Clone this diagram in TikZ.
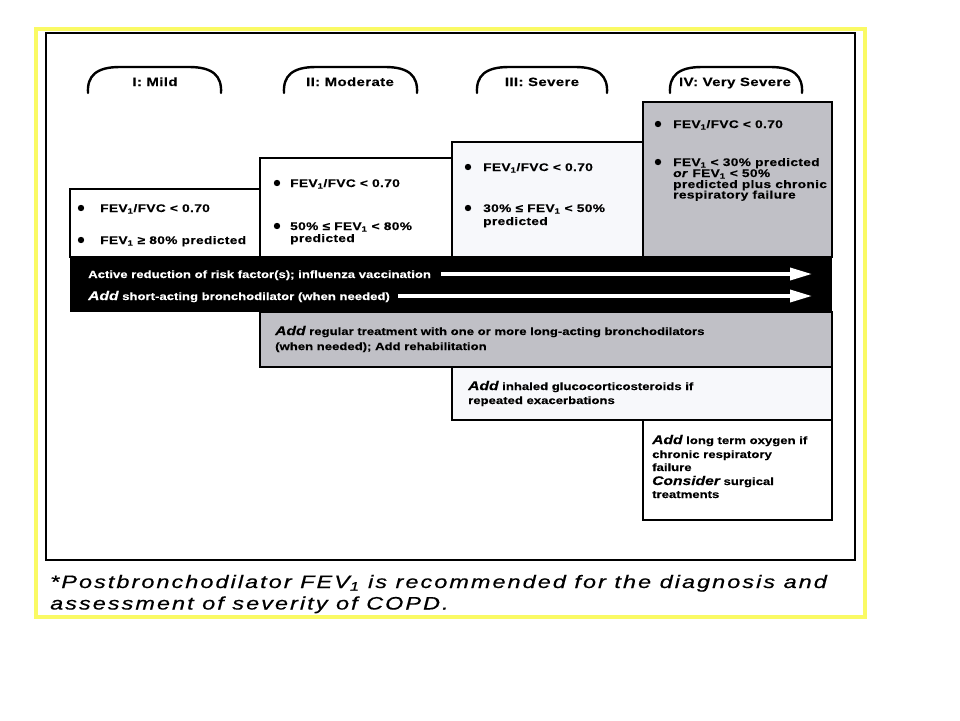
\documentclass[tikz,border=0pt]{standalone}
\usepackage{fontspec}
\setmainfont{Liberation Sans}
\newfontfamily\boxfont[FakeStretch=1.25,LetterSpace=3,FakeBold=0.3]{Liberation Sans}
\newfontfamily\bandfont[FakeStretch=1.25,LetterSpace=0,FakeBold=0.3]{Liberation Sans}
\newfontfamily\footfont[FakeStretch=1.3,LetterSpace=11.5,FakeBold=0.6]{Liberation Sans}
\usetikzlibrary{arrows.meta}
\definecolor{grayfill}{RGB}{192,192,198}
\definecolor{palefill}{RGB}{247,248,251}
\definecolor{ylw}{RGB}{250,250,100}
\newcommand\emword[1]{{\itshape\fontsize{12.5}{12}\selectfont #1}}
\newcommand\sub[1]{\textsubscript{#1}}
\begin{document}
\begin{tikzpicture}[x=1pt,y=-1pt,
  tb/.style={font=\boxfont\bfseries\fontsize{11}{12}\selectfont, anchor=base west, inner sep=0pt},
  tabtxt/.style={font=\boxfont\bfseries\fontsize{12}{12}\selectfont, anchor=base, inner sep=0pt},
  tt/.style={font=\bandfont\bfseries\fontsize{10.5}{12}\selectfont, anchor=base west, inner sep=0pt},
  bt/.style={tt, text=white},
  ft/.style={font=\footfont\itshape\fontsize{18}{21}\selectfont, anchor=base west, inner sep=0pt},
  tabline/.style={line width=2.4pt, line cap=round},
  boxl/.style={draw=black, line width=2pt},
  bul/.style={fill=black},
  arr/.style={draw=white, line width=3.5pt, -{Triangle[length=22pt,width=12pt]}},
  ]
\useasboundingbox (0,0) rectangle (960,720);
\fill[white] (0,0) rectangle (960,720);
% frames
\draw[ylw, line width=3.5pt] (36,29) rectangle (865,617);
\draw[black, line width=2pt] (46,33) rectangle (855,560);
% tabs
\foreach \a/\b in {88/221, 284/417, 477/607, 670/802}{
  \draw[tabline] (\a,93) .. controls (\a-1,76) and (\a+8,67) .. (\a+32,67) -- (\b-32,67) .. controls (\b-8,67) and (\b+1,76) .. (\b,93);
}
\node[tabtxt] (t1) at (155,86) {I: Mild};
\node[tabtxt] (t2) at (350,86) {II: Moderate};
\node[tabtxt] (t3) at (542,86) {III: Severe};
\node[tabtxt] (t4) at (735,86) {IV: Very Severe};
% severity boxes
\draw[boxl, fill=white] (70,189) rectangle (260,257);
\draw[boxl, fill=white] (260,158) rectangle (452,257);
\draw[boxl, fill=palefill] (452,142) rectangle (643,257);
\draw[boxl, fill=grayfill] (643,102) rectangle (832,257);
% box I
\fill[bul] (81,208) circle (3.2);
\node[tb] (b1a) at (100,212) {FEV\sub{1}/FVC < 0.70};
\fill[bul] (81,240) circle (3.2);
\node[tb] (b1b) at (100,244) {FEV\sub{1} ≥ 80\% predicted};
% box II
\fill[bul] (277,183) circle (3.2);
\node[tb] (b2a) at (290,187) {FEV\sub{1}/FVC < 0.70};
\fill[bul] (277,226) circle (3.2);
\node[tb] (b2b) at (290,230) {50\% ≤ FEV\sub{1} < 80\%};
\node[tb] (b2c) at (290,242) {predicted};
% box III
\fill[bul] (468,167) circle (3.2);
\node[tb] (b3a) at (483,171) {FEV\sub{1}/FVC < 0.70};
\fill[bul] (468,208) circle (3.2);
\node[tb] (b3b) at (483,212) {30\% ≤ FEV\sub{1} < 50\%};
\node[tb] (b3c) at (483,225) {predicted};
% box IV
\fill[bul] (658,124) circle (3.2);
\node[tb] (b4a) at (673,128) {FEV\sub{1}/FVC < 0.70};
\fill[bul] (658,162) circle (3.2);
\node[tb] (b4b) at (673,166) {FEV\sub{1} < 30\% predicted};
\node[tb] (b4c) at (673,177) {\textit{or} FEV\sub{1} < 50\%};
\node[tb] (b4d) at (673,188) {predicted plus chronic};
\node[tb] (b4e) at (673,198.5) {respiratory failure};
% black band
\fill[black] (70,257) rectangle (832,312);
\node[bt] (act) at (88,278) {Active reduction of risk factor(s); influenza vaccination};
\node[bt] (sab) at (88,300) {\emword{Add} short-acting bronchodilator (when needed)};
\coordinate (a1s) at (441,274);
\coordinate (a1e) at (812,274);
\coordinate (a2s) at (398,296);
\coordinate (a2e) at (812,296);
\draw[arr] (a1s) -- (a1e);
\draw[arr] (a2s) -- (a2e);
% treatment boxes
\draw[boxl, fill=grayfill] (260,312) rectangle (832,367);
\node[tt] (tr1) at (275,335) {\emword{Add} regular treatment with one or more long-acting bronchodilators};
\node[tt] (tr2) at (275,350) {(when needed); Add rehabilitation};
\draw[boxl, fill=palefill] (452,367) rectangle (832,420);
\node[tt] (ic1) at (468,390) {\emword{Add} inhaled glucocorticosteroids if};
\node[tt] (ic2) at (468,404) {repeated exacerbations};
\draw[boxl, fill=white] (643,420) rectangle (832,520);
\node[tt] (ox1) at (652,444) {\emword{Add} long term oxygen if};
\node[tt] (ox2) at (652,458) {chronic respiratory};
\node[tt] (ox3) at (652,471) {failure};
\node[tt] (ox4) at (652,485) {\emword{Consider} surgical};
\node[tt] (ox5) at (652,498) {treatments};
% footnote
\node[ft] (fn1) at (50,588) {*Postbronchodilator FEV\sub{1} is recommended for the diagnosis and};
\node[ft] (fn2) at (50,609.5) {assessment of severity of COPD.};
\end{tikzpicture}
\end{document}
